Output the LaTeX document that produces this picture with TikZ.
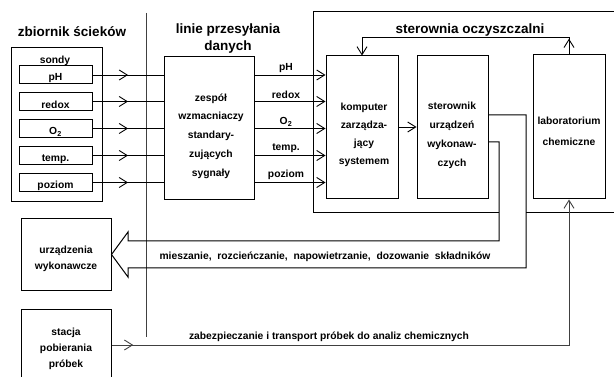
\documentclass[tikz,border=0pt]{standalone}
\usepackage{fontspec}
\setmainfont{Liberation Sans}
\usetikzlibrary{arrows.meta,decorations.markings}
\begin{document}
\begin{tikzpicture}[x=1pt,y=-1pt,
  every node/.style={font=\bfseries\fontsize{10.3}{12}\selectfont, inner sep=0pt},
  ttl/.style={font=\bfseries\fontsize{13.5}{17}\selectfont, align=center},
  txt/.style={align=center, font=\bfseries\fontsize{10.3}{#1}\selectfont},
  box/.style={draw, line width=1pt},
  conn/.style={line width=0.9pt},
  thinl/.style={line width=0.6pt, black!75},
  tip/.style={-{Straight Barb[length=8pt,width=10pt,line width=0.9pt]}},
  midarrow/.style={postaction={decorate}, decoration={markings, mark=at position #1 with {\arrow{Straight Barb[length=8pt,width=10pt,line width=0.9pt]}}}}]
\clip (0,0) rectangle (614,377);

% titles
\node[ttl] (t1) at (72,32) {zbiornik ścieków};
\node[ttl] (t2) at (228,39) {linie przesyłania\\danych};
\node[ttl] (t3) at (470,30) {sterownia oczyszczalni};

% separator line
\draw[thinl] (146,13) -- (146,337);

% sondy
\node[box, minimum width=91, minimum height=154] (sondy) at (56.5,125) {};
\node (sondyt) at (55,61) {sondy};

% amplifier, computer, controller, lab
\node[box, minimum width=90, minimum height=143] (amp) at (209,128.5) {};
\node[txt=18.7] (ampt) at (211,136) {zespół\\wzmacniaczy\\standary-\\zujących\\sygnały};
\node[box, minimum width=72, minimum height=143] (komp) at (362,127.5) {};
\node[txt=18] (kompt) at (364,135) {komputer\\zarządza-\\jący\\systemem};
\node[box, minimum width=71, minimum height=143] (ster) at (452.5,127.5) {};
\node[txt=19] (stert) at (452,135.5) {sterownik\\urządzeń\\wykonaw-\\czych};
\node[box, minimum width=72, minimum height=144] (lab) at (569,127) {};
\node[txt=21] (labt) at (569,131.5) {laboratorium\\chemiczne};

% probes and signal lines
\foreach \n/\y/\t in {ph/75/pH, redox/101.5/redox, o2/128.5/{O\textsubscript{2}}, temp/155.5/temp., poziom/182.5/poziom} {
  \node[box, minimum width=73, minimum height=18] (\n) at (55.5,\y) {};
  \node (\n t) at (55.5,\y+3.5) {\t};
  \draw[conn, midarrow=0.5] (\n.east) -- (\n.east -| amp.west);
  \draw[conn, tip] (amp.east |- \n.east) -- (komp.west |- \n.east)
     node[midway, above=2pt, xshift=-4pt] (\n l) {\t};
}

% sterownia frame
\draw[box] (614,12) -- (313,12) -- (313,213) -- (499,213);
\draw[box] (526,213) -- (614,213);

% feedback lab -> computer
\draw[conn, tip, midarrow=0.065] (lab.north) -- (lab.north |- 0,37) -- (komp.north |- 0,37) -- (komp.north);
% computer -> controller
\draw[conn, tip] (komp.east |- 0,127) -- (ster.west |- 0,127);

% actuators
\node[box, minimum width=90, minimum height=72] (urz) at (66,255) {};
\node[txt=16] (urzt) at (66,259) {urządzenia\\wykonawcze};

% hollow arrow
\draw[box] (ster.east |- 0,115) -- (526,115) -- (526,268) -- (128,268) -- (128,277)
  -- (urz.east |- 0,254.5) -- (128,232) -- (128,241) -- (499,241) -- (499,142) -- (ster.east |- 0,142);
\node (mix) at (325,257) {mieszanie,\ \ rozcieńczanie,\ \ napowietrzanie,\ \ dozowanie\ \ składników};

% sampling station
\node[box, minimum width=90, minimum height=80] (stacja) at (66,349) {};
\node[txt=16] (stacjat) at (66,349) {stacja\\pobierania\\próbek};
\draw[thinl, tip, midarrow=0.036] (stacja.east |- 0,345) -- (lab.south |- 0,345) -- (lab.south);
\node (transp) at (329,337) {zabezpieczanie i transport próbek do analiz chemicznych};
\end{tikzpicture}
\end{document}
